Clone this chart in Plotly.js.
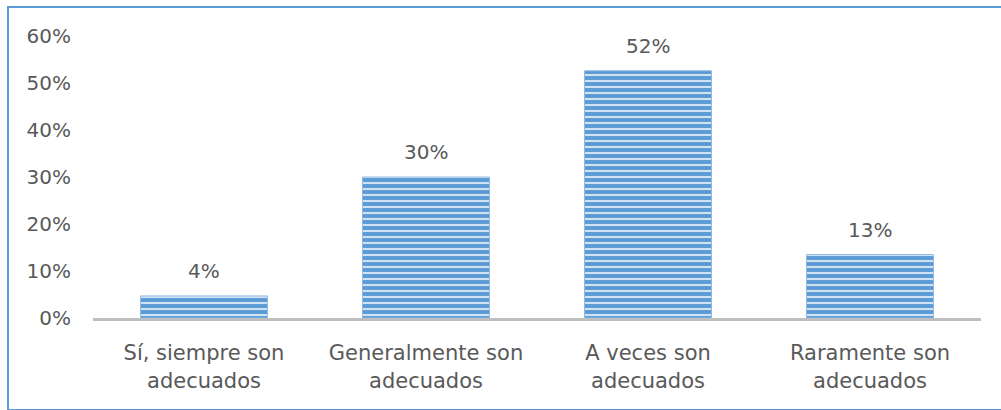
<!DOCTYPE html>
<html>
<head>
<meta charset="utf-8">
<script src="https://cdn.plot.ly/plotly-3.0.1.min.js"></script>
<style>
html,body{margin:0;padding:0;background:#fff;}
#wrap{position:relative;width:1001px;height:410px;overflow:hidden;}
#chart{width:1001px;height:410px;}
#frame{position:absolute;left:7px;top:6px;width:1010px;height:401px;border:2px solid #5b9bd5;pointer-events:none;}
</style>
</head>
<body>
<div id="wrap"><div id="chart"></div><div id="frame"></div></div>
<script>
const categories = ["Sí, siempre son<br>adecuados", "Generalmente son<br>adecuados", "A veces son<br>adecuados", "Raramente son<br>adecuados"];
const values = [0.047, 0.300, 0.526, 0.135];
const valueLabels = ["4%", "30%", "52%", "13%"];
const tickValues = [0, 0.1, 0.2, 0.3, 0.4, 0.5, 0.6];
const tickLabels = ["0%", "10%", "20%", "30%", "40%", "50%", "60%"];

const font = {family: "DejaVu Sans, sans-serif", size: 20, color: "#595959"};
const catFont = {family: "DejaVu Sans, sans-serif", size: 21, color: "#595959"};

const trace = {
  type: "bar",
  x: categories,
  y: values,
  width: 0.572,
  marker: {
    color: "#5b9bd5",
    line: {color: "#8fbbe6", width: 1},
    pattern: {shape: "-", size: 6, solidity: 0.35, fgcolor: "#cfe3f5", bgcolor: "#5b9bd5", fillmode: "replace"}
  },
  hoverinfo: "none"
};

const annotations = categories.map((c, i) => ({
  x: c, y: values[i], xref: "x", yref: "y",
  text: valueLabels[i], showarrow: false,
  yanchor: "bottom", yshift: 11, font: font
}));

const layout = {
  width: 1001, height: 410,
  margin: {l: 93, r: 20, t: 36, b: 92},
  paper_bgcolor: "#fff", plot_bgcolor: "#fff",
  showlegend: false,
  font: font,
  xaxis: {
    showline: true, linecolor: "#bfbfbf", linewidth: 3,
    showgrid: false, zeroline: false, ticks: "",
    tickfont: catFont, ticklabelstandoff: 14, fixedrange: true
  },
  yaxis: {
    range: [0, 0.6], tickvals: tickValues, ticktext: tickLabels,
    showgrid: false, zeroline: false, showline: false, ticks: "",
    tickfont: font, ticklabelstandoff: 21, fixedrange: true
  },
  annotations: annotations
};

Plotly.newPlot("chart", [trace], layout, {displayModeBar: false, staticPlot: true});
</script>
</body>
</html>
